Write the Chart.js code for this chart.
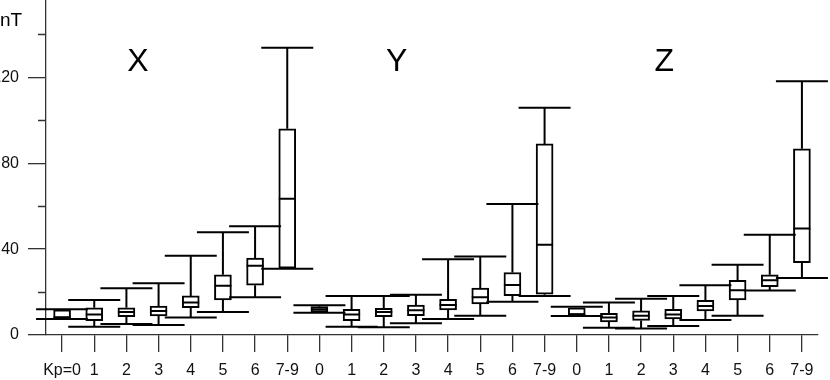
<!DOCTYPE html>
<html>
<head>
<meta charset="utf-8">
<script src="https://cdn.jsdelivr.net/npm/chart.js@4"></script>
<style>
  body { margin: 0; background: #fff; }
  #wrap { width: 830px; height: 380px; position: relative; }
</style>
</head>
<body>
<div id="wrap"><canvas id="boxChart"></canvas></div>
<script>
/* ================= DATA ================= */

const kpLabels = ["Kp=0", "1", "2", "3", "4", "5", "6", "7-9",
                  "0", "1", "2", "3", "4", "5", "6", "7-9",
                  "0", "1", "2", "3", "4", "5", "6", "7-9"];

const components = ["X", "Y", "Z"];

// X component (nT)
const xHigh = [12.0, 16.3, 21.8, 24.1, 36.9, 47.9, 50.7, 133.8];
const xQ3   = [11.7, 12.7, 12.7, 13.5, 18.2, 28.0, 35.8, 96.0];
const xMed  = [8.3, 9.5, 10.7, 11.2, 15.1, 22.9, 32.3, 63.5];
const xQ1   = [7.7, 6.7, 8.5, 8.9, 12.7, 16.3, 23.2, 31.1];
const xLow  = [7.5, 3.9, 5.1, 4.7, 8.2, 10.7, 17.6, 30.8];

// Y component (nT)
const yHigh = [13.9, 18.2, 18.2, 18.7, 35.3, 36.6, 61.0, 105.8];
const yQ3   = [13.2, 12.0, 12.4, 13.9, 16.6, 21.8, 29.1, 89.0];
const yMed  = [12.0, 9.5, 10.7, 11.5, 14.0, 17.6, 23.3, 42.0];
const yQ1   = [10.7, 6.7, 8.5, 9.0, 11.7, 14.5, 18.3, 19.0];
const yLow  = [10.4, 3.9, 3.6, 5.5, 7.5, 9.0, 15.5, 18.2];

// Z component (nT)
const zHigh = [13.1, 15.1, 16.9, 18.2, 23.2, 32.7, 46.7, 118.2];
const zQ3   = [12.7, 10.1, 11.2, 12.0, 16.2, 25.5, 28.0, 86.7];
const zMed  = [9.6, 8.1, 9.0, 9.6, 13.5, 20.8, 25.5, 49.6];
const zQ1   = [9.3, 6.1, 6.8, 7.5, 11.2, 16.3, 22.5, 33.7];
const zLow  = [8.9, 3.4, 3.0, 4.2, 7.0, 9.0, 20.7, 26.6];

const yTicksMajor = [0, 40, 80, 120];
const yTicksMinor = [20, 60, 100, 140];

/* ================= BUILD ================= */

const high = xHigh.concat(yHigh, zHigh);
const q3   = xQ3.concat(yQ3, zQ3);
const med  = xMed.concat(yMed, zMed);
const q1   = xQ1.concat(yQ1, zQ1);
const low  = xLow.concat(yLow, zLow);

const boxes = q1.map((v, i) => [v, q3[i]]);

const FONT = "'Liberation Sans', Arial, Helvetica, sans-serif";
const AXIS = "#333333";

// whiskers, caps, medians, minor ticks and labels
const boxExtras = {
    id: "boxExtras",
    afterDatasetsDraw(chart) {
        const ctx = chart.ctx;
        const xs = chart.scales.x;
        const ys = chart.scales.y;
        const half = 8.5;
        const capHalf = 26;

        ctx.save();
        ctx.strokeStyle = "#000";
        ctx.lineWidth = 2;
        ctx.lineCap = "butt";

        for (let i = 0; i < high.length; i++) {
            const cx = xs.getPixelForValue(i);
            const yHi = ys.getPixelForValue(high[i]);
            const yQ3 = ys.getPixelForValue(q3[i]);
            const yMd = ys.getPixelForValue(med[i]);
            const yQ1 = ys.getPixelForValue(q1[i]);
            const yLo = ys.getPixelForValue(low[i]);

            ctx.beginPath();
            // upper whisker + cap
            ctx.moveTo(cx, yQ3); ctx.lineTo(cx, yHi);
            ctx.moveTo(cx - capHalf, yHi); ctx.lineTo(cx + capHalf, yHi);
            // lower whisker + cap
            ctx.moveTo(cx, yQ1); ctx.lineTo(cx, yLo);
            ctx.moveTo(cx - capHalf, yLo); ctx.lineTo(cx + capHalf, yLo);
            // median
            ctx.moveTo(cx - half, yMd); ctx.lineTo(cx + half, yMd);
            ctx.stroke();
        }

        // minor ticks on y axis
        ctx.strokeStyle = AXIS;
        ctx.lineWidth = 1.3;
        const ax = ys.right;
        ctx.beginPath();
        yTicksMinor.forEach(v => {
            const py = Math.round(ys.getPixelForValue(v)) + 0.5;
            ctx.moveTo(ax - 8, py);
            ctx.lineTo(ax, py);
        });
        ctx.stroke();

        // unit label
        ctx.fillStyle = "#000";
        ctx.font = "19px " + FONT;
        ctx.textAlign = "left";
        ctx.textBaseline = "alphabetic";
        ctx.fillText("nT", 0, 26);

        // component letters
        const letterPos = [2.36, 10.4, 18.72];
        ctx.font = "32px " + FONT;
        ctx.textAlign = "center";
        components.forEach((c, k) => {
            ctx.fillText(c, xs.getPixelForValue(letterPos[k]), 71);
        });

        ctx.restore();
    }
};

/* ================= CHART ================= */

new Chart(document.getElementById("boxChart"), {
    type: "bar",
    data: {
        labels: kpLabels,
        datasets: [{
            data: boxes,
            backgroundColor: "#ffffff",
            borderColor: "#000000",
            borderWidth: 2,
            borderSkipped: false,
            barThickness: 17
        }]
    },
    options: {
        responsive: true,
        maintainAspectRatio: false,
        animation: false,
        layout: { padding: { left: 0, right: 12, top: 0, bottom: 0 } },
        plugins: {
            legend: { display: false },
            tooltip: { enabled: false }
        },
        scales: {
            x: {
                type: "category",
                offset: true,
                grid: {
                    offset: false,
                    drawOnChartArea: false,
                    tickLength: 17,
                    color: AXIS,
                    lineWidth: 1.3
                },
                border: { display: true, color: AXIS, width: 1.3 },
                ticks: {
                    color: "#111",
                    font: { family: FONT, size: 16 },
                    padding: 9,
                    autoSkip: false,
                    maxRotation: 0
                },
                afterFit(scale) {
                    scale.height = 45;
                    scale.paddingLeft = 0;
                    scale.paddingRight = 0;
                }
            },
            y: {
                min: 0,
                max: 156,
                grid: {
                    drawOnChartArea: false,
                    tickLength: 18,
                    color: AXIS,
                    lineWidth: 1.3
                },
                border: { display: true, color: AXIS, width: 1.3 },
                afterBuildTicks(scale) {
                    scale.ticks = yTicksMajor.map(v => ({ value: v }));
                },
                ticks: {
                    color: "#111",
                    font: { family: FONT, size: 16 },
                    padding: 9
                },
                afterFit(scale) {
                    scale.width = 46;
                    scale.paddingTop = 0;
                    scale.paddingBottom = 0;
                }
            }
        }
    },
    plugins: [boxExtras]
});
</script>
</body>
</html>
